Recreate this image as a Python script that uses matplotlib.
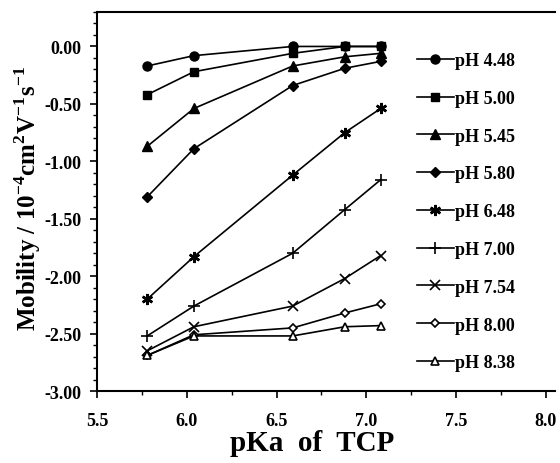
import matplotlib
matplotlib.use("Agg")
import matplotlib.pyplot as plt
from matplotlib.ticker import MultipleLocator, FormatStrFormatter

plt.rcParams['font.family'] = ['Liberation Serif', 'DejaVu Serif']
plt.rcParams['font.weight'] = 'bold'
plt.rcParams['mathtext.fontset'] = 'custom'
plt.rcParams['mathtext.rm'] = 'Liberation Serif:bold'
plt.rcParams['mathtext.bf'] = 'Liberation Serif:bold'

pka = [5.78, 6.04, 6.59, 6.88, 7.08]
labels = ["pH 4.48", "pH 5.00", "pH 5.45", "pH 5.80", "pH 6.48",
          "pH 7.00", "pH 7.54", "pH 8.00", "pH 8.38"]
ph448 = [-0.17, -0.08, 0.00, 0.00, 0.00]
ph500 = [-0.42, -0.22, -0.06, 0.00, 0.00]
ph545 = [-0.87, -0.54, -0.17, -0.09, -0.06]
ph580 = [-1.31, -0.89, -0.34, -0.19, -0.13]
ph648 = [-2.20, -1.83, -1.12, -0.75, -0.54]
ph700 = [-2.52, -2.26, -1.80, -1.42, -1.16]
ph754 = [-2.65, -2.44, -2.26, -2.02, -1.82]
ph800 = [-2.69, -2.51, -2.45, -2.32, -2.24]
ph838 = [-2.69, -2.52, -2.52, -2.44, -2.43]
series = [ph448, ph500, ph545, ph580, ph648, ph700, ph754, ph800, ph838]

styles = [
    dict(marker='o', ms=6.5, mfc='black'),
    dict(marker='s', ms=6.2, mfc='black'),
    dict(marker='^', ms=6.5, mfc='black'),
    dict(marker='D', ms=4.8, mfc='black'),
    dict(marker=(6, 2, 0), ms=8, mfc='black', mew=1.8),
    dict(marker='+', ms=8, mfc='black', mew=1.2),
    dict(marker='x', ms=7, mfc='black', mew=1.2),
    dict(marker='D', ms=4.5, mfc='white', mew=1.2),
    dict(marker='^', ms=6, mfc='white', mew=1.2),
]

fig = plt.figure(figsize=(5.6, 4.64), dpi=100)
ax = fig.add_axes([0.173, 0.155, 0.818, 0.817])

for vals, lab, st in zip(series, labels, styles):
    ax.plot(pka, vals, color='black', lw=1.2, mec='black', label=lab, **st)

ax.set_xlim(5.5, 8.05)
ax.set_ylim(-3.0, 0.3)
ax.xaxis.set_major_locator(MultipleLocator(0.5))
ax.xaxis.set_minor_locator(MultipleLocator(0.25))
ax.yaxis.set_major_locator(MultipleLocator(0.5))
ax.yaxis.set_minor_locator(MultipleLocator(0.1))
ax.xaxis.set_major_formatter(FormatStrFormatter('%.1f'))
ax.yaxis.set_major_formatter(FormatStrFormatter('%.2f'))
ax.tick_params(which='major', direction='out', length=5, width=1.2, labelsize=13)
ax.tick_params(which='minor', direction='out', length=3, width=1.0)
ax.tick_params(axis='x', which='both', pad=10)
ax.tick_params(axis='y', which='both', pad=6)
ax.spines['right'].set_visible(False)
for s in ['top', 'bottom', 'left']:
    ax.spines[s].set_linewidth(1.5)

ax.set_xlabel("pKa  of  TCP", fontsize=21, fontweight='bold')
ax.xaxis.set_label_coords(0.47, -0.1)
ax.set_ylabel(r"Mobility / 10$^{-4}$cm$^{2}$V$^{-1}$s$^{-1}$", fontsize=18,
              fontweight='bold')
ax.yaxis.set_label_coords(-0.118, 0.51)

leg = ax.legend(loc='upper left', bbox_to_anchor=(0.684, 0.913), frameon=False,
                fontsize=13, handlelength=2.0, handletextpad=0.1,
                labelspacing=1.15, numpoints=1, borderaxespad=0)

fig.savefig("out.png", dpi=100)
